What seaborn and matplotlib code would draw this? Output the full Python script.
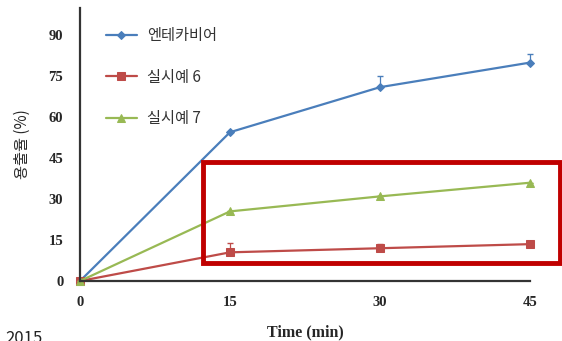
import pandas as pd
import matplotlib
matplotlib.use('Agg')
import matplotlib.pyplot as plt
import seaborn as sns
from matplotlib.patches import Rectangle

# data
times = [0, 15, 30, 45]
series_names = ["엔테카비어", "실시예 6", "실시예 7"]
entecavir = [0, 54.5, 71, 80]
example6 = [0, 10.5, 12, 13.5]
example7 = [0, 25.5, 31, 36]
err_entecavir = [0, 0, 4, 3]
err_example6 = [0, 3.5, 1.5, 0]
err_example7 = [0, 0, 0, 0]
x_ticks = [0, 15, 30, 45]
y_ticks = [0, 15, 30, 45, 60, 75, 90]

colors = ["#4a7ebb", "#be4b48", "#98b954"]
markers = ["D", "s", "^"]
msizes = [4, 6, 6]

df = pd.DataFrame({
    "time": times * 3,
    "value": entecavir + example6 + example7,
    "series": sum([[n] * len(times) for n in series_names], []),
})

sns.set_theme(style="white")
plt.rcParams['font.family'] = ['Noto Sans CJK KR', 'DejaVu Sans']

fig = plt.figure(figsize=(5.62, 3.41), dpi=100)
ax = fig.add_axes([80 / 562, 1 - 281 / 341, 450 / 562, 273 / 341])

errs = [err_entecavir, err_example6, err_example7]
for name, c, m, ms, e in zip(series_names, colors, markers, msizes, errs):
    sub = df[df["series"] == name]
    sns.lineplot(data=sub, x="time", y="value", color=c, marker=m, markersize=ms,
                 markeredgecolor=c, linewidth=1.6, label=name, ax=ax, clip_on=False)
    ax.errorbar(sub["time"], sub["value"], yerr=[[0] * len(e), e], fmt="none",
                ecolor=c, elinewidth=0.9, capsize=2.5, clip_on=False)

ax.set_xlim(0, 45)
ax.set_ylim(0, 100)
ax.set_xticks(x_ticks)
ax.set_yticks(y_ticks)
for lab in ax.get_xticklabels() + ax.get_yticklabels():
    lab.set_family("Liberation Serif")
    lab.set_fontweight("bold")
    lab.set_fontsize(10.5)
ax.tick_params(axis="both", direction="out", length=3, width=1, color="#333333")
ax.tick_params(axis="y", pad=9)
ax.tick_params(axis="x", pad=8)

for s in ["top", "right"]:
    ax.spines[s].set_visible(False)
for s in ["left", "bottom"]:
    ax.spines[s].set_color("#333333")
    ax.spines[s].set_linewidth(1.6)

ax.set_xlabel("Time (min)", family="Liberation Serif", fontweight="bold", fontsize=11.5, labelpad=11)
ax.set_ylabel("용출율 (%)", fontsize=11, labelpad=13)

leg = ax.legend(loc="upper left", bbox_to_anchor=(100 / 562, 1 - 21 / 341),
                bbox_transform=fig.transFigure, frameon=False, fontsize=11,
                labelspacing=1.6, handlelength=2.0, handletextpad=0.7, borderaxespad=0)
for t in leg.get_texts():
    t.set_color("#333333")

# red highlight box around the two examples
fig.patches.append(Rectangle((203 / 562, 1 - 263 / 341), 357 / 562, 101 / 341,
                             transform=fig.transFigure, fill=False,
                             edgecolor="#c00000", linewidth=3.5))

# source year, cut at the bottom edge as in the reference
fig.text(5 / 562, -0.018, "2015", fontsize=12, va="bottom", ha="left", color="#222222")

fig.savefig("out.png", dpi=100)
plt.close(fig)
